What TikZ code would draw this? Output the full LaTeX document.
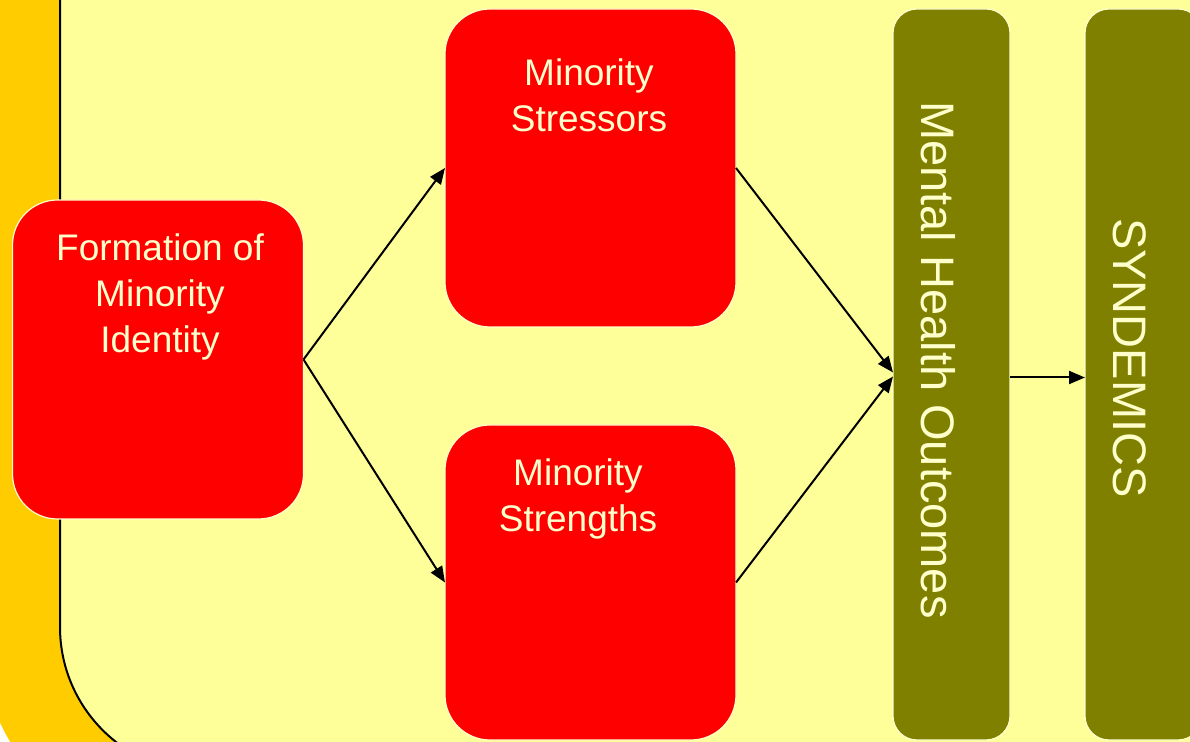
\documentclass[tikz,border=0pt]{standalone}
\usepackage{fontspec}
\setmainfont{Liberation Sans}
\usetikzlibrary{arrows.meta}
\definecolor{slidered}{HTML}{FF0000}
\definecolor{olivegreen}{HTML}{808000}
\definecolor{paleyellow}{HTML}{FFFFCC}
\definecolor{paleback}{HTML}{FFFF99}
\definecolor{sideorange}{HTML}{FFCC00}
\begin{document}
\begin{tikzpicture}[x=1pt, y=1pt,
		redbox/.style={draw=paleyellow, line width=1.2pt, fill=slidered, rounded corners=45pt, inner sep=0pt, outer sep=0pt, minimum width=291pt},
		olivebox/.style={draw=paleyellow, line width=1.2pt, fill=olivegreen, rounded corners=24pt, inner sep=0pt, outer sep=0pt, minimum width=117pt, minimum height=731pt},
		boxtext/.style={text=paleyellow, align=center, font=\fontsize{37}{46}\selectfont},
		sidetext/.style={text=paleyellow, rotate=-90, font=\fontsize{47}{52}\selectfont},
		link/.style={line width=2pt, -{Triangle[length=16pt, width=13pt]}}]
		\useasboundingbox (0,0) rectangle (1190,741);
		\clip (0,0) rectangle (1190,741);

		% slide background
		\fill[white] (0,0) rectangle (1190,741);
		\fill[sideorange, rounded corners=227pt] (-21,-113) rectangle (1400,1100);
		\draw[fill=paleback, line width=2pt, rounded corners=146pt] (60,-32) rectangle (1400,1100);

		\node[redbox, minimum height=319pt] (formation) at (158,381.5) {};
		\node[redbox, minimum height=318pt] (stressors) at (590.5,573) {};
		\node[redbox, minimum height=315pt] (strengths) at (590.5,158.5) {};
		\node[olivebox] (outcomes) at (951.5,366.5) {};
		\node[olivebox] (syndemics) at (1143.5,366.5) {};

		\node[boxtext] (formationtext) at (160,444) {Formation of\\Minority\\Identity};
		\node[boxtext] (stressorstext) at (589,646) {Minority\\Stressors};
		\node[boxtext] (strengthstext) at (578,242) {Minority\\Strengths};
		\node[sidetext] (outcomestext) at (938,381) {Mental Health Outcomes};
		\node[sidetext] (syndemicstext) at (1130,383) {SYNDEMICS};

		\draw[link] (formation.east) -- (stressors.west);
		\draw[link] (formation.east) -- (strengths.west);
		\draw[link] (stressors.east) -- ([yshift=2pt]outcomes.west);
		\draw[link] (strengths.east) -- ([yshift=-2pt]outcomes.west);
		\draw[link] ([yshift=-3pt]outcomes.east) -- ([yshift=-3pt]syndemics.west);
	\end{tikzpicture}
\end{document}
